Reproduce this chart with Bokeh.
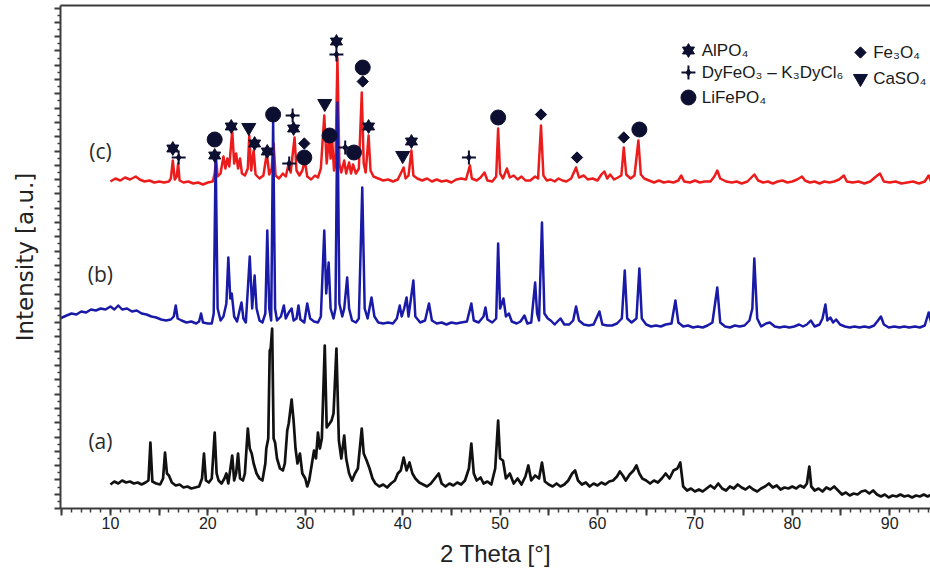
from bokeh.plotting import figure
from bokeh.models import Range1d, FixedTicker, LinearAxis, CustomLabelingPolicy
from bokeh.core.properties import value
from bokeh.embed import file_html
from bokeh.resources import INLINE

# ---------------- data (2 Theta [deg], intensity [a.u.]) ----------------
trace_c = [(10.0,327),(10.5,330),(11.0,328),(11.5,331),(12.0,329),(12.6,332),(13.0,329),(13.5,327),(14.0,328),(14.5,326),
 (15.0,327),(15.5,326),(16.0,327),(16.2,330),(16.4,348),(16.6,329),(16.8,332),(16.95,345),(17.1,328),(17.5,326),
 (18.0,327),(18.5,325),(19.0,326),(19.5,324),(20.0,326),(20.5,327),(20.7,335),(20.85,350),(21.0,332),(21.3,335),
 (21.6,352),(21.8,340),(22.0,350),(22.2,342),(22.5,378),(22.7,345),(22.9,355),(23.1,340),(23.3,350),(23.5,335),
 (23.8,333),(24.1,340),(24.25,373),(24.45,338),(24.7,358),(24.9,334),(25.3,330),(25.7,333),(26.05,355),(26.3,334),
 (26.55,340),(26.75,365),(26.95,333),(27.3,330),(27.7,335),(28.0,332),(28.3,345),(28.5,336),(28.9,371),(29.1,338),
 (29.4,333),(29.7,338),(29.95,348),(30.2,332),(30.6,329),(31.0,333),(31.3,331),(31.6,340),(31.95,393),(32.2,345),
 (32.45,373),(32.6,350),(32.75,370),(32.95,338),(33.1,345),(33.3,451),(33.5,345),(33.7,336),(34.0,348),(34.2,335),
 (34.5,346),(34.7,335),(34.9,344),(35.2,335),(35.5,340),(35.8,416),(36.0,345),(36.2,336),(36.5,373),(36.7,338),
 (37.0,332),(37.5,330),(38.0,328),(38.5,329),(39.0,327),(39.5,329),(40.1,341),(40.3,330),(40.6,333),(40.9,358),
 (41.1,333),(41.5,330),(42.0,328),(42.5,330),(43.0,327),(43.5,329),(44.0,327),(44.5,328),(45.0,326),(45.5,329),
 (46.0,330),(46.5,329),(46.9,343),(47.1,330),(47.6,328),(48.0,331),(48.4,336),(48.7,328),(49.2,327),(49.6,332),
 (49.8,380),(50.0,335),(50.3,330),(50.7,340),(51.0,331),(51.4,333),(51.8,329),(52.2,332),(52.6,328),(53.1,328),
 (53.6,332),(53.9,330),(54.2,383),(54.45,333),(54.8,328),(55.2,329),(55.6,327),(56.0,330),(56.4,328),(56.8,327),
 (57.3,330),(57.8,341),(58.1,331),(58.6,333),(59.0,329),(59.5,330),(60.0,328),(60.4,334),(60.7,337),(61.0,330),
 (61.3,334),(61.7,329),(62.1,331),(62.45,333),(62.7,361),(62.95,334),(63.4,330),(63.8,333),(64.2,368),(64.45,334),
 (64.8,330),(65.3,328),(65.8,326),(66.3,328),(66.8,326),(67.3,327),(67.8,326),(68.3,328),(68.6,333),(68.9,327),
 (69.5,326),(70.0,328),(70.5,326),(71.0,327),(71.6,327),(72.0,332),(72.3,338),(72.6,330),(73.2,327),(73.8,326),
 (74.3,327),(74.8,325),(75.4,327),(75.8,331),(76.1,334),(76.5,328),(77.0,326),(77.5,327),(78.0,325),(78.5,327),
 (79.0,328),(79.5,326),(80.0,327),(80.5,329),(81.0,332),(81.3,328),(81.8,326),(82.3,327),(82.8,325),(83.3,327),
 (83.8,326),(84.3,327),(84.8,329),(85.3,333),(85.6,327),(86.2,326),(86.8,327),(87.4,325),(88.0,327),(88.6,332),
 (89.0,335),(89.4,327),(90.0,326),(90.6,327),(91.2,325),(91.8,326),(92.4,327),(93.0,325),(93.6,327),(94.0,333),
 (94.3,326),(94.6,325)]

trace_b = [(4.8,190),(5.5,193),(6.0,195),(6.5,194),(7.0,197),(7.5,196),(8.0,199),(8.5,198),(9.0,200),(9.5,199),
 (10.0,202),(10.4,199),(10.8,203),(11.2,199),(11.7,200),(12.2,197),(12.7,198),(13.2,195),(13.7,194),(14.2,192),
 (14.7,191),(15.2,189),(15.7,188),(16.2,189),(16.5,192),(16.7,203),(16.9,190),(17.3,188),(17.8,186),(18.3,187),
 (18.8,185),(19.1,187),(19.3,195),(19.5,186),(20.0,185),(20.4,185),(20.6,195),(20.8,355),(21.0,200),(21.3,188),
 (21.6,192),(21.9,205),(22.1,251),(22.3,210),(22.45,215),(22.7,192),(23.0,187),(23.3,200),(23.45,206),(23.65,190),
 (23.9,186),(24.3,252),(24.55,200),(24.8,233),(25.0,200),(25.3,188),(25.6,186),(25.9,195),(26.1,278),(26.3,200),
 (26.5,188),(26.7,388),(26.9,200),(27.1,188),(27.5,192),(27.8,203),(28.0,190),(28.3,196),(28.6,200),(28.8,188),
 (29.1,190),(29.3,203),(29.5,189),(29.9,186),(30.2,205),(30.5,190),(30.9,187),(31.3,186),(31.6,192),(31.95,278),
 (32.15,215),(32.4,246),(32.6,200),(32.9,190),(33.1,200),(33.3,406),(33.5,205),(33.8,192),(34.0,200),(34.3,231),
 (34.5,200),(34.8,188),(35.2,186),(35.5,190),(35.85,321),(36.1,200),(36.4,190),(36.8,211),(37.1,192),(37.5,186),
 (38.0,185),(38.5,186),(39.0,185),(39.4,190),(39.7,203),(39.9,192),(40.15,200),(40.4,211),(40.6,192),(41.1,228),
 (41.3,192),(41.8,186),(42.3,188),(42.7,205),(43.0,188),(43.5,185),(44.0,186),(44.5,184),(45.0,186),(45.5,185),
 (46.0,186),(46.6,187),(47.05,205),(47.3,188),(47.8,186),(48.3,192),(48.5,201),(48.7,189),(49.2,186),(49.6,190),
 (49.8,265),(50.0,200),(50.35,210),(50.6,192),(50.9,195),(51.2,187),(51.7,185),(52.1,187),(52.5,193),(52.8,185),
 (53.2,186),(53.6,226),(53.8,195),(54.0,188),(54.3,286),(54.55,195),(54.9,190),(55.2,188),(55.6,184),(56.2,190),
 (56.6,184),(57.1,184),(57.5,188),(57.8,202),(58.1,188),(58.6,184),(59.1,183),(59.6,184),(60.2,197),(60.5,184),
 (61.0,183),(61.5,183),(62.0,185),(62.5,190),(62.8,238),(63.05,190),(63.5,186),(64.0,190),(64.3,240),(64.55,190),
 (65.0,184),(65.5,182),(66.0,183),(66.5,182),(67.0,184),(67.6,185),(68.0,208),(68.3,186),(68.8,182),(69.3,183),
 (69.8,181),(70.3,182),(70.8,181),(71.3,183),(71.8,186),(72.3,221),(72.6,186),(73.1,182),(73.6,181),(74.1,183),
 (74.6,182),(75.1,183),(75.6,188),(75.9,200),(76.1,250),(76.4,190),(76.8,182),(77.3,185),(77.7,186),(78.2,182),
 (78.7,181),(79.2,182),(79.7,181),(80.2,182),(80.7,184),(81.1,182),(81.5,184),(81.9,188),(82.3,182),(82.8,184),
 (83.1,190),(83.4,204),(83.6,188),(83.9,191),(84.2,186),(84.5,189),(84.9,184),(85.4,182),(85.9,181),(86.4,182),
 (86.9,181),(87.4,182),(87.9,181),(88.4,183),(88.8,188),(89.1,192),(89.4,184),(89.9,181),(90.5,182),(91.0,181),
 (91.5,182),(92.0,181),(92.6,182),(93.1,181),(93.6,183),(94.0,196),(94.3,184),(94.6,182)]

trace_a = [(10.0,24),(10.4,27),(10.8,25),(11.2,28),(11.6,26),(12.0,27),(12.4,25),(12.8,26),(13.2,24),(13.6,26),
 (13.9,28),(14.1,66),(14.3,27),(14.7,25),(15.1,24),(15.4,30),(15.6,56),(15.8,35),(16.0,33),(16.3,26),
 (16.7,23),(17.1,24),(17.5,21),(17.9,22),(18.3,20),(18.7,21),(19.1,22),(19.4,30),(19.6,55),(19.8,28),
 (20.1,26),(20.4,30),(20.7,76),(20.9,35),(21.1,28),(21.4,25),(21.7,30),(21.9,35),(22.1,25),(22.5,53),
 (22.7,28),(22.9,35),(23.1,55),(23.3,30),(23.6,28),(23.8,35),(24.1,80),(24.3,60),(24.5,55),(24.7,45),
 (25.0,35),(25.3,30),(25.6,28),(25.9,45),(26.0,60),(26.2,70),(26.35,158),(26.45,160),(26.6,180),(26.75,70),
 (26.9,66),(27.1,50),(27.4,40),(27.7,38),(27.9,45),(28.15,78),(28.3,85),(28.6,109),(28.8,88),(29.0,60),
 (29.2,45),(29.45,55),(29.7,35),(30.0,30),(30.2,22),(30.4,28),(30.6,40),(30.9,58),(31.1,50),(31.3,76),
 (31.5,60),(31.7,70),(32.0,163),(32.2,81),(32.5,85),(32.7,88),(32.9,95),(33.2,160),(33.45,68),(33.7,50),
 (34.0,73),(34.2,50),(34.5,35),(34.8,28),(35.1,35),(35.4,40),(35.8,80),(36.0,55),(36.3,48),(36.6,40),
 (36.9,30),(37.2,25),(37.6,22),(38.0,24),(38.4,21),(38.8,25),(39.2,28),(39.5,35),(39.8,38),(40.1,51),
 (40.4,38),(40.7,46),(41.0,35),(41.3,30),(41.7,26),(42.1,24),(42.5,22),(42.9,25),(43.3,30),(43.7,35),
 (44.0,25),(44.4,22),(44.8,25),(45.2,23),(45.6,26),(46.0,24),(46.4,28),(46.8,40),(47.05,65),(47.3,35),
 (47.6,28),(48.0,31),(48.3,25),(48.7,27),(49.1,24),(49.5,40),(49.8,88),(50.0,50),(50.3,48),(50.6,30),
 (51.0,35),(51.4,25),(51.8,30),(52.2,24),(52.6,32),(52.9,43),(53.2,28),(53.6,33),(54.0,30),(54.3,46),
 (54.6,27),(55.0,24),(55.4,22),(55.8,25),(56.2,22),(56.6,24),(57.0,28),(57.4,35),(57.7,38),(58.0,28),
 (58.4,24),(58.8,26),(59.2,22),(59.6,25),(60.0,23),(60.4,26),(60.8,24),(61.2,27),(61.6,28),(62.0,32),
 (62.3,37),(62.6,33),(62.9,28),(63.3,34),(63.7,38),(64.0,43),(64.3,35),(64.6,30),(65.0,28),(65.4,25),
 (65.8,28),(66.2,26),(66.6,30),(67.0,35),(67.4,30),(67.8,38),(68.2,40),(68.5,46),(68.8,22),(69.2,18),
 (69.6,20),(70.0,17),(70.4,19),(70.8,17),(71.2,20),(71.6,23),(72.0,20),(72.4,25),(72.8,20),(73.2,18),
 (73.6,22),(74.0,20),(74.4,24),(74.8,21),(75.2,19),(75.6,22),(76.0,19),(76.4,17),(76.8,20),(77.2,22),
 (77.6,25),(78.0,21),(78.4,23),(78.8,19),(79.2,21),(79.6,20),(80.0,22),(80.4,20),(80.8,23),(81.2,21),
 (81.5,25),(81.75,42),(81.95,22),(82.3,18),(82.7,20),(83.1,17),(83.5,21),(83.9,19),(84.3,22),(84.7,18),
 (85.1,14),(85.5,16),(85.9,13),(86.3,15),(86.7,14),(87.1,17),(87.5,18),(87.9,15),(88.3,18),(88.7,14),
 (89.1,12),(89.5,14),(89.9,11),(90.3,13),(90.7,12),(91.1,14),(91.5,12),(91.9,13),(92.3,11),(92.7,13),
 (93.1,12),(93.5,14),(93.9,12),(94.3,14),(94.6,13)]

# phase markers (2 Theta, intensity)
alpo4 = [(16.4,360),(20.7,353),(22.4,382),(24.8,365),(26.1,357),(28.8,380),(33.2,467),(36.5,382),(40.9,367)]
dyfeo3 = [(17.0,351),(28.35,345),(28.7,393),(33.2,454),(34.1,361),(46.8,351)]
lifepo4 = [(20.7,369),(26.7,394),(29.9,351),(32.5,373),(35.0,356),(35.9,441),(49.8,391),(64.3,379)]
fe3o4 = [(29.9,365),(35.9,427),(54.2,394),(57.9,351),(62.7,371)]
caso4 = [(24.2,381),(32.0,405),(40.0,353)]

sample_labels = ["(c)", "(b)", "(a)"]
sample_label_y = [358, 235, 68]

legend_names_1 = ["AlPO₄", "DyFeO₃ – K₃DyCl₆", "LiFePO₄"]
legend_y_1 = [458, 436, 411]
legend_names_2 = ["Fe₃O₄", "CaSO₄"]
legend_y_2 = [456, 430]

x_ticks = list(range(5, 95, 5))
x_minor = list(range(5, 95))

# ---------------- figure ----------------
p = figure(width=930, height=579, output_backend="svg", toolbar_location=None,
           x_range=Range1d(4.87, 94.19), y_range=Range1d(0, 503),
           min_border_left=60, min_border_right=0, min_border_top=5, min_border_bottom=71)
p.grid.visible = False
p.outline_line_color = None

axis_col = "#3c3c3c"
# x axis: long ticks every 5, labels every 10
xa = p.xaxis[0]
xa.ticker = FixedTicker(ticks=x_ticks, minor_ticks=x_minor)
xa.major_label_policy = CustomLabelingPolicy(
    code="const r = []; for (let i = 1; i < indices.size; i += 2) r.push(i); return r")
xa.axis_label = "2 Theta [°]"
xa.axis_label_text_font = "Liberation Sans"
xa.axis_label_text_font_size = "24px"
xa.axis_label_text_font_style = "normal"
xa.axis_label_text_color = "#222222"
xa.axis_label_standoff = 8
xa.major_label_text_font = "Liberation Sans"
xa.major_label_text_font_size = "16px"
xa.major_label_text_color = "#222222"
xa.major_label_standoff = 1
xa.axis_line_width = 2
xa.axis_line_color = axis_col
xa.major_tick_line_color = axis_col
xa.minor_tick_line_color = axis_col
xa.major_tick_line_width = 2
xa.minor_tick_line_width = 1.5
xa.major_tick_in = 0
xa.major_tick_out = 7
xa.minor_tick_in = 0
xa.minor_tick_out = 4

# y axis: unlabeled ticks
ya = p.yaxis[0]
ya.ticker = FixedTicker(ticks=[i * 14.3 for i in range(36)], minor_ticks=[7.15 + i * 14.3 for i in range(35)])
ya.major_label_policy = CustomLabelingPolicy(code="return []")
ya.major_label_text_font_size = "0px"
ya.major_label_standoff = 0
ya.axis_label = "Intensity [a.u.]"
ya.axis_label_text_font = "DejaVu Sans"
ya.axis_label_text_font_size = "23px"
ya.axis_label_text_font_style = "normal"
ya.axis_label_text_color = "#222222"
ya.axis_label_standoff = 17
ya.axis_line_width = 2
ya.axis_line_color = axis_col
ya.major_tick_line_color = axis_col
ya.minor_tick_line_color = axis_col
ya.major_tick_line_width = 2
ya.minor_tick_line_width = 1.5
ya.major_tick_in = 0
ya.major_tick_out = 6
ya.minor_tick_in = 0
ya.minor_tick_out = 3

top = LinearAxis(ticker=FixedTicker(ticks=[]), major_label_policy=CustomLabelingPolicy(code="return []"),
                 major_label_text_font_size="0px", major_label_standoff=0,
                 major_tick_out=0, minor_tick_out=0, axis_line_width=2, axis_line_color=axis_col)
p.add_layout(top, "above")

# ---------------- traces ----------------
for trace, col, lw in [(trace_c, "#ec1c1c", 2.5), (trace_b, "#1a1aa8", 2.5), (trace_a, "#111111", 2.7)]:
    xs, ys = zip(*trace)
    p.line(list(xs), list(ys), line_color=col, line_width=lw, line_join="round")

# ---------------- markers ----------------
mk = "#0d0f30"
def hexagram(pts, size=12):
    xs, ys = zip(*pts)
    p.scatter(list(xs), list(ys), marker="triangle", size=size, color=mk)
    p.scatter(list(xs), list(ys), marker="inverted_triangle", size=size, color=mk)

def fourstar(pts, size=14):
    xs, ys = zip(*pts)
    p.scatter(list(xs), list(ys), marker="cross", size=size, line_color=mk, line_width=2)
    p.scatter(list(xs), list(ys), marker="diamond", size=7, color=mk)

def dots(pts):
    xs, ys = zip(*pts)
    p.scatter(list(xs), list(ys), marker="circle", size=15, color=mk)

def diamonds(pts):
    xs, ys = zip(*pts)
    p.scatter(list(xs), list(ys), marker="square", size=8, angle=0.785398, color=mk)

def tris(pts):
    xs, ys = zip(*pts)
    p.scatter(list(xs), list(ys), marker="inverted_triangle", size=14, color=mk)

hexagram(alpo4)
fourstar(dyfeo3)
dots(lifepo4)
diamonds(fe3o4)
tris(caso4)

# sample labels
p.text(x=[8.97] * 3, y=sample_label_y, text=sample_labels, text_font=value("Open Sans"),
       text_font_size="21px", text_color="#2a2a2a", text_align="center", text_baseline="middle")

# legend
leg_x1, leg_tx1 = 69.34, 70.7
leg_x2, leg_tx2 = 87.0, 88.3
hexagram([(leg_x1, legend_y_1[0])])
fourstar([(leg_x1, legend_y_1[1])])
dots([(leg_x1, legend_y_1[2])])
diamonds([(leg_x2, legend_y_2[0])])
tris([(leg_x2, legend_y_2[1])])
p.text(x=[leg_tx1] * 3, y=legend_y_1, text=legend_names_1, text_font=value("Liberation Sans"),
       text_font_size="17px", text_color="#1a1a1a", text_align="left", text_baseline="middle")
p.text(x=[leg_tx2] * 2, y=legend_y_2, text=legend_names_2, text_font=value("Liberation Sans"),
       text_font_size="17px", text_color="#1a1a1a", text_align="left", text_baseline="middle")

open("out.html", "w").write(file_html(p, INLINE))
